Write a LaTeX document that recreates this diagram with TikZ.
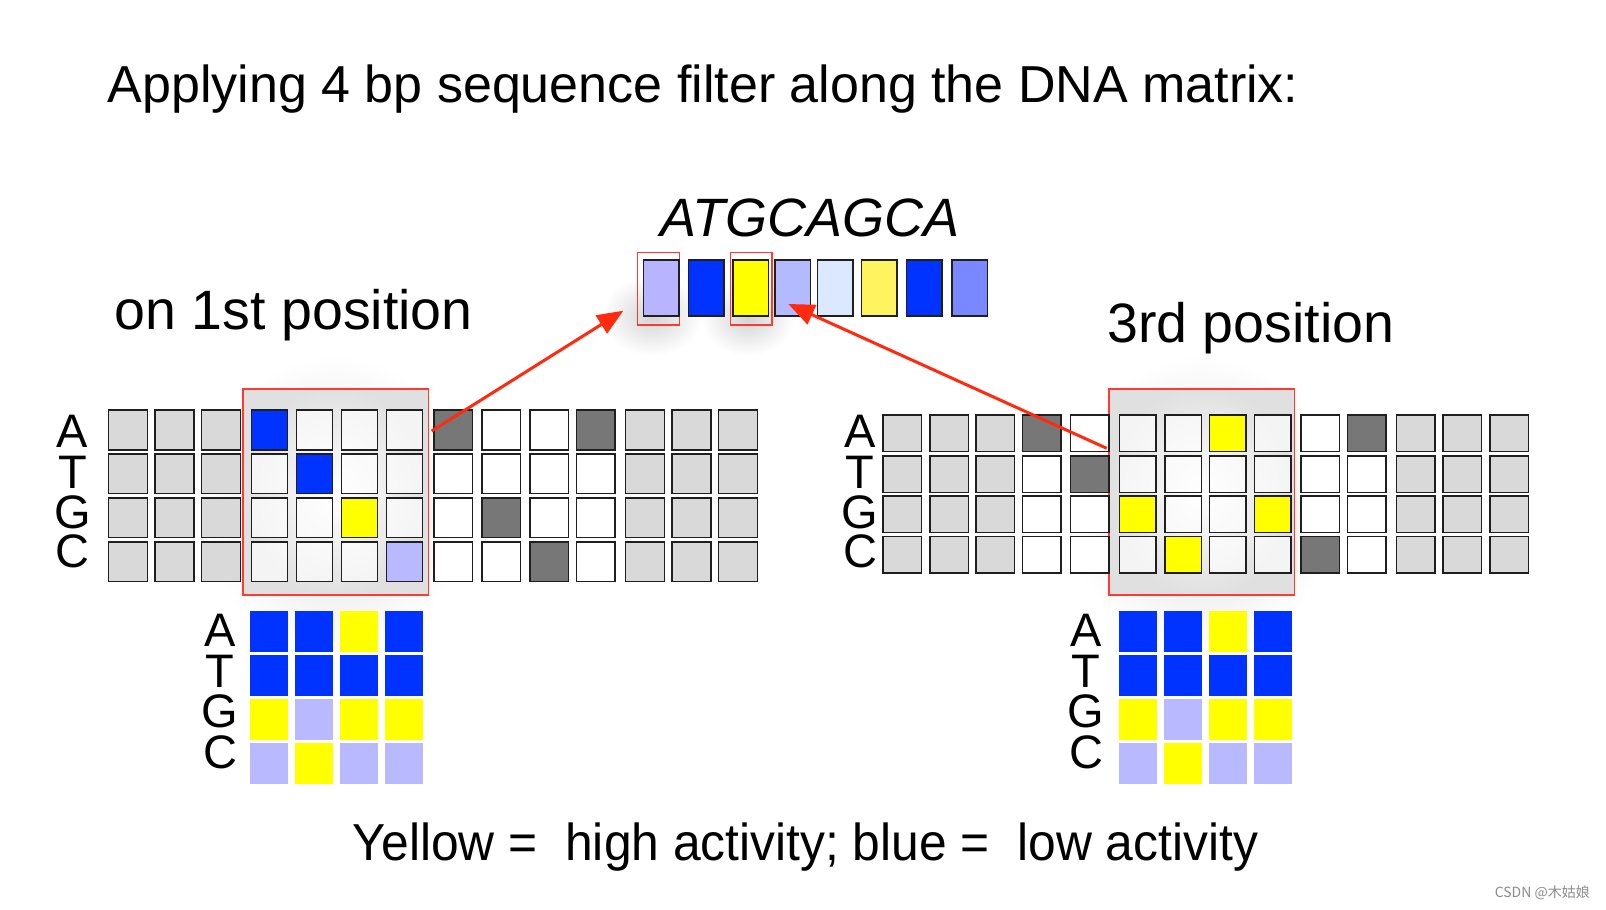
\documentclass[tikz,border=0pt]{standalone}
\usepackage{fontspec}
\setmainfont{Liberation Sans}
\newfontfamily\cjk{Noto Sans CJK SC}
\usetikzlibrary{arrows.meta}
\definecolor{cgray}{HTML}{D9D9D9}
\definecolor{cdark}{HTML}{777777}
\definecolor{cblue}{HTML}{0033FF}
\definecolor{cyellow}{HTML}{FFFF00}
\definecolor{clav}{HTML}{B9B9FF}
\definecolor{cred}{HTML}{FF2A10}
\definecolor{credbox}{HTML}{FF3B2F}
\definecolor{sa}{HTML}{B8B4FF}
\definecolor{sb}{HTML}{B4BAFF}
\definecolor{sc}{HTML}{DCE8FF}
\definecolor{sd}{HTML}{FFF460}
\definecolor{se}{HTML}{7A88FF}
\newcommand\gridrow[7]{% #1 prefix, #2 y, #3 height, #4 x array, #5 w array, #6 styles, #7 base style
  \foreach \s [count=\i] in {#6} {%
    \pgfmathsetmacro\xx{#4[\i-1]}%
    \pgfmathsetmacro\ww{#5[\i-1]}%
    \node[#7,\s,minimum width=\ww pt,minimum height=#3pt] (#1\i) at (\xx,#2) {};
  }}
\def\xL{{128,174.5,221,269.5,314.5,359.5,404.5,453.3,501,549.2,595.7,644.8,691.3,738}}
\def\wL{{39,39,39,36.1,36.1,36.1,36.1,38.5,38.5,38.5,38.5,39,39,39}}
\def\xR{{902.3,949,995.3,1041.7,1089.7,1137.7,1183,1227.8,1272.8,1320,1366.7,1415.7,1462.3,1509}}
\def\wR{{38.5,38.5,38.5,38.5,38.5,36.5,36.5,36.5,36.5,38.5,38.5,38.5,38.5,38.5}}
\def\xKL{{269.2,314.3,359.2,404.3}}
\def\xKR{{1137.9,1183.3,1227.9,1272.9}}
\def\wK{{38,38,38,38}}
\begin{document}
\begin{tikzpicture}[x=1pt,y=-1pt,
  cell/.style={draw=black!88,line width=1.5pt,inner sep=0pt,outer sep=0pt},
  kcell/.style={draw=none,inner sep=0pt,outer sep=0pt},
  cg/.style={fill=cgray},
  cd/.style={fill=cdark},
  cw/.style={fill=white},
  cf/.style={fill=white,fill opacity=0.65},
  cb/.style={fill=cblue},
  cy/.style={fill=cyellow},
  cl/.style={fill=clav},
  kb/.style={fill=cblue},
  ky/.style={fill=cyellow},
  kl/.style={fill=clav},
  seqbox/.style={draw=black!88,line width=1.5pt,inner sep=0pt,outer sep=0pt,minimum width=35.5pt,minimum height=55.9pt},
  fbox/.style={draw=credbox,line width=1.3pt,inner sep=0pt,outer sep=0pt,inner color=white,outer color=black!12},
  sbox/.style={draw=credbox,line width=1.3pt,inner sep=0pt,outer sep=0pt},
  haze/.style={inner color=black!17,outer color=white},
  bighaze/.style={inner color=black!13,outer color=white},
  lab/.style={font=\fontsize{47}{47}\selectfont,inner sep=0pt,text height=33pt,text depth=0pt},
  arr/.style={draw=cred,line width=3pt,-{Triangle[length=26pt,width=21pt]}}]
\fill[white] (0,0) rectangle (1606,910);
\useasboundingbox (0,0) rectangle (1606,910);

% soft haze around the frames
\shade[bighaze] (335,505) ellipse [x radius=135, y radius=150];
\shade[bighaze] (1201,505) ellipse [x radius=135, y radius=150];
\shade[haze] (652,316) ellipse [x radius=50, y radius=40];
\shade[haze] (748,318) ellipse [x radius=46, y radius=38];

% title texts
\node[anchor=base west,font=\fontsize{52}{60}\selectfont,inner sep=0pt] (title) at (107.5,102.4) {Applying 4 bp sequence filter along the DNA matrix:};
\node[anchor=base,font=\fontsize{54}{60}\selectfont\itshape,inner sep=0pt] (seq) at (810,236.7) {ATGCAGCA};
\node[anchor=base west,font=\fontsize{55.5}{60}\selectfont,inner sep=0pt] (pos1) at (114.7,329.8) {on 1st position};
\node[anchor=base west,font=\fontsize{55.5}{60}\selectfont,inner sep=0pt] (pos3) at (1107,342) {3rd position};

% sequence boxes with red frames
\node[sbox,minimum width=42pt,minimum height=72.7pt] (sr1) at (658.35,288.7) {};
\node[sbox,minimum width=41.4pt,minimum height=72.7pt] (sr2) at (751.35,288.7) {};
\node[seqbox,fill=sa] (s1) at (661,288) {};
\node[seqbox,fill=cblue] (s2) at (706.2,288) {};
\node[seqbox,fill=cyellow] (s3) at (750.5,288) {};
\node[seqbox,fill=sb] (s4) at (792.7,288) {};
\node[seqbox,fill=sc] (s5) at (835,288) {};
\node[seqbox,fill=sd] (s6) at (879,288) {};
\node[seqbox,fill=cblue] (s7) at (924.2,288) {};
\node[seqbox,fill=se] (s8) at (969.5,288) {};

% filter frames on the matrices
\node[fbox,minimum width=185.7pt,minimum height=206.1pt] (fL) at (335.8,492) {};
\node[fbox,minimum width=185.4pt,minimum height=206.1pt] (fR) at (1201.65,492) {};

% left DNA matrix
\gridrow{LA}{430}{39.8}{\xL}{\wL}{cg,cg,cg,cb,cf,cf,cf,cd,cw,cw,cd,cg,cg,cg}{cell}
\gridrow{LT}{473.8}{39.8}{\xL}{\wL}{cg,cg,cg,cf,cb,cf,cf,cw,cw,cw,cw,cg,cg,cg}{cell}
\gridrow{LG}{517.8}{39.8}{\xL}{\wL}{cg,cg,cg,cf,cf,cy,cf,cw,cd,cw,cw,cg,cg,cg}{cell}
\gridrow{LC}{561.8}{39.8}{\xL}{\wL}{cg,cg,cg,cf,cf,cf,cl,cw,cw,cd,cw,cg,cg,cg}{cell}
\node[lab] (lla) at (72.5,431) {A};
\node[lab] (llt) at (72.5,471.5) {T};
\node[lab] (llg) at (72.5,511.5) {G};
\node[lab] (llc) at (72.5,551) {C};

% right DNA matrix
\gridrow{RA}{433.3}{36.5}{\xR}{\wR}{cg,cg,cg,cd,cw,cf,cf,cy,cf,cw,cd,cg,cg,cg}{cell}
\gridrow{RT}{474.2}{36.5}{\xR}{\wR}{cg,cg,cg,cw,cd,cf,cf,cf,cf,cw,cw,cg,cg,cg}{cell}
\gridrow{RG}{514.4}{36.5}{\xR}{\wR}{cg,cg,cg,cw,cw,cy,cf,cf,cy,cw,cw,cg,cg,cg}{cell}
\gridrow{RC}{554.9}{36.5}{\xR}{\wR}{cg,cg,cg,cw,cw,cf,cy,cf,cf,cd,cw,cg,cg,cg}{cell}
\node[lab] (rla) at (860,431.3) {A};
\node[lab] (rlt) at (860,471.5) {T};
\node[lab] (rlg) at (860,511.5) {G};
\node[lab] (rlc) at (860,551) {C};

% left kernel
\gridrow{KLA}{631.2}{41}{\xKL}{\wK}{kb,kb,ky,kb}{kcell}
\gridrow{KLT}{675.5}{41}{\xKL}{\wK}{kb,kb,kb,kb}{kcell}
\gridrow{KLG}{719.5}{41}{\xKL}{\wK}{ky,kl,ky,ky}{kcell}
\gridrow{KLC}{763}{41}{\xKL}{\wK}{kl,ky,kl,kl}{kcell}
\node[lab] (kla) at (220,630) {A};
\node[lab] (klt) at (220,670.5) {T};
\node[lab] (klg) at (220,711) {G};
\node[lab] (klc) at (220,751.5) {C};

% right kernel
\gridrow{KRA}{631.2}{41}{\xKR}{\wK}{kb,kb,ky,kb}{kcell}
\gridrow{KRT}{675.5}{41}{\xKR}{\wK}{kb,kb,kb,kb}{kcell}
\gridrow{KRG}{719.5}{41}{\xKR}{\wK}{ky,kl,ky,ky}{kcell}
\gridrow{KRC}{763}{41}{\xKR}{\wK}{kl,ky,kl,kl}{kcell}
\node[lab] (kra) at (1086,630) {A};
\node[lab] (krt) at (1086,670.5) {T};
\node[lab] (krg) at (1086,711) {G};
\node[lab] (krc) at (1086,751.5) {C};

% arrows
\coordinate (a1s) at (431.7,431);
\coordinate (a1e) at (623.3,310.7);
\coordinate (a2s) at (1106.7,448.3);
\coordinate (a2e) at (788.3,304);
\draw[arr] (a1s) -- (a1e);
\draw[arr] (a2s) -- (a2e);

% legend
\node[anchor=base,font=\fontsize{52}{60}\selectfont,inner sep=0pt] (legend) at (805.5,860.3) {\scalebox{0.957}[1]{Yellow =\ \ high activity; blue =\ \ low activity}};
\node[anchor=base east,font=\cjk\fontsize{14}{16}\selectfont,text=black!45,inner sep=0pt] (wm) at (1590,897) {CSDN @木姑娘};
\end{tikzpicture}
\end{document}
